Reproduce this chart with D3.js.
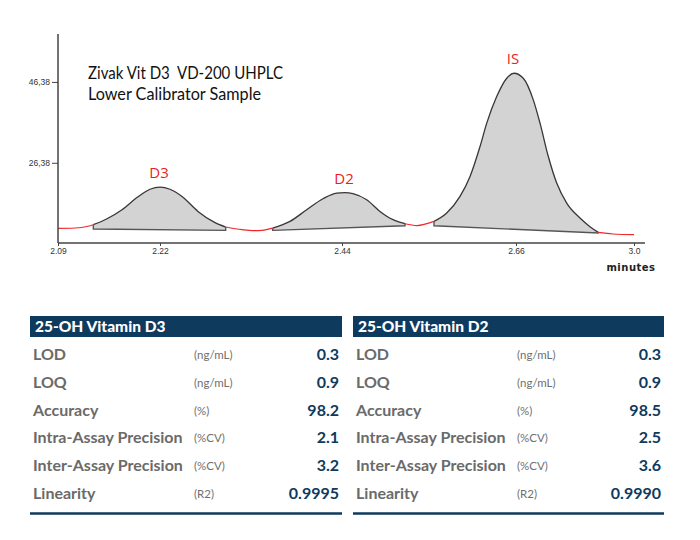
<!DOCTYPE html>
<html><head><meta charset="utf-8">
<script src="https://cdn.jsdelivr.net/npm/d3@7"></script>
<style>body{margin:0;background:#fff} svg{display:block} text{white-space:pre}</style>
</head><body><svg id="c" width="700" height="540"></svg>
<script>
// ---------- data ----------
const xTickValues = [2.09, 2.22, 2.44, 2.66, 3.0];
const xTickLabels = ["2.09", "2.22", "2.44", "2.66", "3.0"];
const yTickValues = [26.38, 46.38];
const yTickLabels = ["26,38", "46,38"];

const traceTime = [2.09, 2.1117, 2.1282, 2.135, 2.1525, 2.1716, 2.192, 2.2073, 2.22, 2.2321, 2.2466, 2.2659, 2.2865, 2.2994,
  2.3191, 2.3324, 2.3433, 2.3562, 2.3771, 2.3973, 2.417, 2.4336, 2.4438, 2.4539, 2.4712, 2.488, 2.5045, 2.5197,
  2.5348, 2.5563, 2.5724, 2.5892, 2.6019, 2.6145, 2.623, 2.6356, 2.6483, 2.6575, 2.681, 2.7098, 2.7292, 2.7531,
  2.7773, 2.8061, 2.8444, 2.8732, 2.8971, 2.9395, 3.0];
const traceSignal = [10.16, 10.26, 10.70, 11.07, 12.55, 14.78, 17.98, 19.84, 20.38, 19.84, 18.06, 14.36, 11.57, 10.50,
  9.84, 9.59, 9.67, 10.21, 11.89, 14.78, 17.49, 18.90, 19.02, 18.73, 17.24, 14.36, 12.31, 11.32,
  10.87, 11.89, 13.96, 18.06, 23.0, 30.40, 36.18, 42.75, 47.29, 48.53, 47.29, 41.94, 36.18, 27.94,
  21.37, 16.43, 12.73, 10.58, 9.17, 8.78, 8.60];

const peakNames = ["D3", "D2", "IS"];
const peakStart = [2.135, 2.3562, 2.5563];
const peakEnd = [2.2994, 2.5197, 2.8971];
const peakBaseStart = [10.01, 9.67, 10.82];
const peakBaseEnd = [9.67, 10.82, 9.02];
const peakApexTime = [2.22, 2.4438, 2.6575];
const peakApexSignal = [20.38, 19.02, 48.53];

const titleLines = ["Zivak Vit D3  VD-200 UHPLC", "Lower Calibrator Sample"];
const xAxisTitle = "minutes";

const tableTitles = ["25-OH Vitamin D3", "25-OH Vitamin D2"];
const paramNames = ["LOD", "LOQ", "Accuracy", "Intra-Assay Precision", "Inter-Assay Precision", "Linearity"];
const paramUnits = ["(ng/mL)", "(ng/mL)", "(%)", "(%CV)", "(%CV)", "(R2)"];
const valuesD3 = ["0.3", "0.9", "98.2", "2.1", "3.2", "0.9995"];
const valuesD2 = ["0.3", "0.9", "98.5", "2.5", "3.6", "0.9990"];

// ---------- drawing ----------
const svg = d3.select("#c");
const x = d3.scaleLinear().domain(xTickValues).range([58, 160, 342, 516, 634]);
const y = d3.scaleLinear().domain([6.55, 58.23]).range([243, 34]);
const xEnd = 645;

const trace = traceTime.map((t, i) => ({t, v: traceSignal[i]}));
const line = d3.line().x(d => x(d.t)).y(d => y(d.v)).curve(d3.curveMonotoneX);

// filled peaks
peakNames.forEach((name, i) => {
  const pts = trace.filter(d => d.t >= peakStart[i] - 1e-9 && d.t <= peakEnd[i] + 1e-9);
  const top = line(pts);
  const path = top + "L" + x(peakEnd[i]) + "," + y(peakBaseEnd[i]) +
    "L" + x(peakStart[i]) + "," + y(peakBaseStart[i]) + "Z";
  svg.append("path").attr("d", path).attr("fill", "#d3d3d3").attr("stroke", "none");
  svg.append("path").attr("d", top).attr("fill", "none").attr("stroke", "#3c3535").attr("stroke-width", 1.3);
  svg.append("path")
    .attr("d", "M" + x(peakStart[i]) + "," + y(pts[0].v) + "L" + x(peakStart[i]) + "," + y(peakBaseStart[i]) +
      "L" + x(peakEnd[i]) + "," + y(peakBaseEnd[i]) + "L" + x(peakEnd[i]) + "," + y(pts[pts.length - 1].v))
    .attr("fill", "none").attr("stroke", "#555").attr("stroke-width", 1.4);
});

// red trace segments outside peaks
const gaps = [[traceTime[0], peakStart[0]], [peakEnd[0], peakStart[1]], [peakEnd[1], peakStart[2]], [peakEnd[2], traceTime[traceTime.length - 1]]];
gaps.forEach(g => {
  const pts = trace.filter(d => d.t >= g[0] - 1e-9 && d.t <= g[1] + 1e-9);
  svg.append("path").attr("d", line(pts)).attr("fill", "none").attr("stroke", "#f0282d").attr("stroke-width", 1.2);
});

// axes
const axisColor = "#444";
svg.append("line").attr("x1", 58).attr("x2", 58).attr("y1", 34).attr("y2", 243)
  .attr("stroke", axisColor).attr("stroke-width", 1.5);
svg.append("line").attr("x1", 58).attr("x2", xEnd).attr("y1", 243).attr("y2", 243)
  .attr("stroke", axisColor).attr("stroke-width", 1.5);

const xAxis = svg.append("g").attr("transform", "translate(0,243)")
  .call(d3.axisBottom(x).tickValues(xTickValues).tickFormat((d, i) => xTickLabels[i]).tickSize(3).tickPadding(2));
xAxis.select(".domain").remove();
xAxis.selectAll("line").attr("stroke", axisColor);
xAxis.selectAll("text").attr("font-family", "Liberation Sans, Arial, sans-serif").attr("font-size", 8.5).attr("fill", "#333");

const yAxis = svg.append("g").attr("transform", "translate(58,0)")
  .call(d3.axisLeft(y).tickValues(yTickValues).tickFormat((d, i) => yTickLabels[i]).tickSize(6).tickPadding(2));
yAxis.select(".domain").remove();
yAxis.selectAll("line").attr("stroke", axisColor);
yAxis.selectAll("text").attr("font-family", "Liberation Sans, Arial, sans-serif").attr("font-size", 8.5).attr("fill", "#333");

svg.append("text").attr("x", 631).attr("y", 271).attr("text-anchor", "middle")
  .attr("font-family", "DejaVu Sans, sans-serif").attr("font-weight", "bold").attr("font-size", 10)
  .attr("letter-spacing", 0.5).attr("fill", "#222").text(xAxisTitle);

// title
const titleWidths = [195, 173];
titleLines.forEach((t, i) => {
  svg.append("text").attr("x", 88).attr("y", 79 + i * 21)
    .attr("font-family", "Lato, Open Sans, sans-serif").attr("font-size", 17).attr("fill", "#111")
    .attr("textLength", titleWidths[i]).attr("lengthAdjust", "spacingAndGlyphs").text(t);
});

// peak labels
peakNames.forEach((name, i) => {
  svg.append("text").attr("x", x(peakApexTime[i]) - 1).attr("y", y(peakApexSignal[i]) - 9)
    .attr("text-anchor", "middle").attr("font-family", "Open Sans, sans-serif").attr("font-size", 15)
    .attr("fill", "#ee1c24").text(name);
});

// tables
const navy = "#0e3a5e";
const tables = [
  {x0: 30, x1: 342, title: tableTitles[0], vals: valuesD3},
  {x0: 353, x1: 664, title: tableTitles[1], vals: valuesD2}
];
tables.forEach(tb => {
  const g = svg.append("g");
  g.append("rect").attr("x", tb.x0).attr("y", 316).attr("width", tb.x1 - tb.x0).attr("height", 21).attr("fill", navy);
  g.append("text").attr("x", tb.x0 + 5).attr("y", 332).attr("font-family", "Lato, sans-serif")
    .attr("font-weight", 900).attr("font-size", 15.5).attr("fill", "#fff").text(tb.title);
  paramNames.forEach((p, i) => {
    const yy = 360 + i * 27.8;
    g.append("text").attr("x", tb.x0 + 3).attr("y", yy).attr("font-family", "Lato, sans-serif")
      .attr("font-weight", "bold").attr("font-size", 16).attr("fill", "#6a6a6a").text(p);
    g.append("text").attr("x", tb.x0 + 164).attr("y", yy - 1).attr("font-family", "Lato, sans-serif")
      .attr("font-size", 11.5).attr("fill", "#6f6f6f").text(paramUnits[i]);
    g.append("text").attr("x", tb.x1 - 3).attr("y", yy).attr("text-anchor", "end").attr("font-family", "Lato, sans-serif")
      .attr("font-weight", "bold").attr("font-size", 16).attr("fill", navy).text(tb.vals[i]);
  });
  g.append("line").attr("x1", tb.x0).attr("x2", tb.x1).attr("y1", 513.5).attr("y2", 513.5)
    .attr("stroke", navy).attr("stroke-width", 2.5);
});
</script></body></html>
